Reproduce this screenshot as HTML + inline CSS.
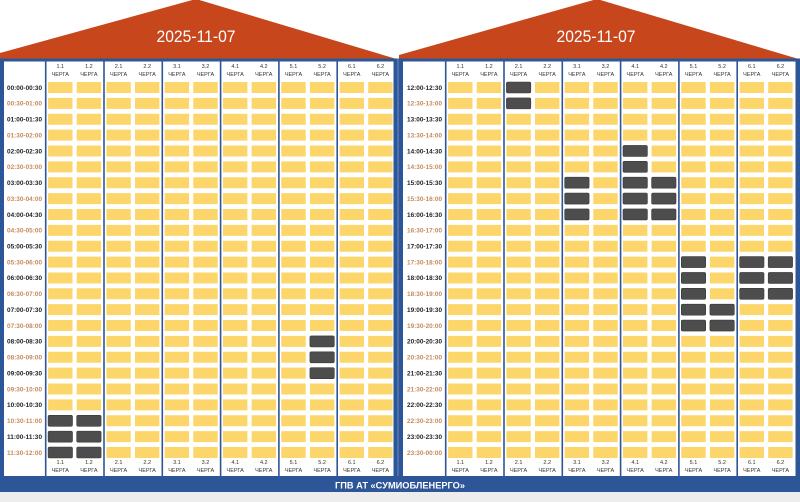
<!DOCTYPE html>
<html><head><meta charset="utf-8"><style>
html,body{margin:0;padding:0;background:#fff}
svg{display:block}
.t{font-family:"Liberation Sans",sans-serif;font-weight:bold;font-size:6.4px;text-anchor:middle}
.e{fill:#1f1f1f}.o{fill:#c48a5c}
.h{font-family:"Liberation Sans",sans-serif;font-size:5.5px;fill:#333;text-anchor:middle}
.d{fill:#4d4d4d;stroke:#3a3a3a;stroke-width:0.6}
.cells{fill:none;stroke:#fcd66a;stroke-width:24.4;stroke-dasharray:11 4.87}
.sep{stroke:#2d5699;stroke-width:1.6}
</style></head><body>
<svg width="800" height="502" viewBox="0 0 800 502" xmlns="http://www.w3.org/2000/svg">
<rect width="800" height="502" fill="#fff"/>
<rect y="492" width="800" height="10" fill="#ededed"/>
<polygon points="0,58.5 0,53 196,-1 395,58.5" fill="#c8461c"/>
<polygon points="399,58.5 399,55 597,-1 797,58.5" fill="#c8461c"/>
<rect x="0" y="58.5" width="397.5" height="433.5" fill="#2d5699"/>
<rect x="398.5" y="58.5" width="401.5" height="433.5" fill="#2d5699"/>
<rect x="397.5" y="58.5" width="1" height="417.5" fill="#6f8cc2"/>
<rect x="0" y="476" width="800" height="16" fill="#2d5699"/>
<rect x="4" y="61.5" width="389.5" height="414.5" fill="#fff"/>
<rect x="403" y="61.5" width="392.5" height="414.5" fill="#fff"/>

<text x="196" y="42" font-family="Liberation Sans, sans-serif" font-size="17" fill="#fff" text-anchor="middle" textLength="79" lengthAdjust="spacingAndGlyphs">2025-11-07</text>
<text x="596" y="42" font-family="Liberation Sans, sans-serif" font-size="17" fill="#fff" text-anchor="middle" textLength="79" lengthAdjust="spacingAndGlyphs">2025-11-07</text>
<text x="400" y="488.5" font-family="Liberation Sans, sans-serif" font-weight="bold" font-size="9" fill="#fff" text-anchor="middle" textLength="130" lengthAdjust="spacingAndGlyphs">ГПВ АТ «СУМИОБЛЕНЕРГО»</text>

<!-- LEFT PANEL -->
<g>
<path class="sep" d="M45.7 61.5V476M104 61.5V476M162.3 61.5V476M220.6 61.5V476M278.9 61.5V476M337.2 61.5V476"/>
<path class="cells" d="M60.3 82V463M88.9 82V463M118.6 82V463M147.2 82V463M176.9 82V463M205.5 82V463M235.2 82V463M263.8 82V463M293.5 82V463M322.1 82V463M351.8 82V463M380.4 82V463"/>
<rect class="d" x="48.1" y="415.27" width="24.4" height="11" rx="1.5"/>
<rect class="d" x="48.1" y="431.14" width="24.4" height="11" rx="1.5"/>
<rect class="d" x="48.1" y="447.01" width="24.4" height="11" rx="1.5"/>
<rect class="d" x="76.7" y="415.27" width="24.4" height="11" rx="1.5"/>
<rect class="d" x="76.7" y="431.14" width="24.4" height="11" rx="1.5"/>
<rect class="d" x="76.7" y="447.01" width="24.4" height="11" rx="1.5"/>
<rect class="d" x="309.9" y="335.92" width="24.4" height="11" rx="1.5"/>
<rect class="d" x="309.9" y="351.79" width="24.4" height="11" rx="1.5"/>
<rect class="d" x="309.9" y="367.66" width="24.4" height="11" rx="1.5"/>

<text class="t e" x="24.5" y="89.8" textLength="35">00:00-00:30</text>
<text class="t o" x="24.5" y="105.67" textLength="35">00:30-01:00</text>
<text class="t e" x="24.5" y="121.54" textLength="35">01:00-01:30</text>
<text class="t o" x="24.5" y="137.41" textLength="35">01:30-02:00</text>
<text class="t e" x="24.5" y="153.28" textLength="35">02:00-02:30</text>
<text class="t o" x="24.5" y="169.15" textLength="35">02:30-03:00</text>
<text class="t e" x="24.5" y="185.02" textLength="35">03:00-03:30</text>
<text class="t o" x="24.5" y="200.89" textLength="35">03:30-04:00</text>
<text class="t e" x="24.5" y="216.76" textLength="35">04:00-04:30</text>
<text class="t o" x="24.5" y="232.63" textLength="35">04:30-05:00</text>
<text class="t e" x="24.5" y="248.5" textLength="35">05:00-05:30</text>
<text class="t o" x="24.5" y="264.37" textLength="35">05:30-06:00</text>
<text class="t e" x="24.5" y="280.24" textLength="35">06:00-06:30</text>
<text class="t o" x="24.5" y="296.11" textLength="35">06:30-07:00</text>
<text class="t e" x="24.5" y="311.98" textLength="35">07:00-07:30</text>
<text class="t o" x="24.5" y="327.85" textLength="35">07:30-08:00</text>
<text class="t e" x="24.5" y="343.72" textLength="35">08:00-08:30</text>
<text class="t o" x="24.5" y="359.59" textLength="35">08:30-09:00</text>
<text class="t e" x="24.5" y="375.46" textLength="35">09:00-09:30</text>
<text class="t o" x="24.5" y="391.33" textLength="35">09:30-10:00</text>
<text class="t e" x="24.5" y="407.2" textLength="35">10:00-10:30</text>
<text class="t o" x="24.5" y="423.07" textLength="35">10:30-11:00</text>
<text class="t e" x="24.5" y="438.94" textLength="35">11:00-11:30</text>
<text class="t o" x="24.5" y="454.81" textLength="35">11:30-12:00</text>
</g>

<!-- headers -->
<g>
<text class="h" x="60.3" y="68">1.1<tspan x="60.3" y="76">ЧЕРГА</tspan></text>
<text class="h" x="88.9" y="68">1.2<tspan x="88.9" y="76">ЧЕРГА</tspan></text>
<text class="h" x="118.6" y="68">2.1<tspan x="118.6" y="76">ЧЕРГА</tspan></text>
<text class="h" x="147.2" y="68">2.2<tspan x="147.2" y="76">ЧЕРГА</tspan></text>
<text class="h" x="176.9" y="68">3.1<tspan x="176.9" y="76">ЧЕРГА</tspan></text>
<text class="h" x="205.5" y="68">3.2<tspan x="205.5" y="76">ЧЕРГА</tspan></text>
<text class="h" x="235.2" y="68">4.1<tspan x="235.2" y="76">ЧЕРГА</tspan></text>
<text class="h" x="263.8" y="68">4.2<tspan x="263.8" y="76">ЧЕРГА</tspan></text>
<text class="h" x="293.5" y="68">5.1<tspan x="293.5" y="76">ЧЕРГА</tspan></text>
<text class="h" x="322.1" y="68">5.2<tspan x="322.1" y="76">ЧЕРГА</tspan></text>
<text class="h" x="351.8" y="68">6.1<tspan x="351.8" y="76">ЧЕРГА</tspan></text>
<text class="h" x="380.4" y="68">6.2<tspan x="380.4" y="76">ЧЕРГА</tspan></text>
</g>
<g transform="translate(0,396)">
<text class="h" x="60.3" y="68">1.1<tspan x="60.3" y="76">ЧЕРГА</tspan></text>
<text class="h" x="88.9" y="68">1.2<tspan x="88.9" y="76">ЧЕРГА</tspan></text>
<text class="h" x="118.6" y="68">2.1<tspan x="118.6" y="76">ЧЕРГА</tspan></text>
<text class="h" x="147.2" y="68">2.2<tspan x="147.2" y="76">ЧЕРГА</tspan></text>
<text class="h" x="176.9" y="68">3.1<tspan x="176.9" y="76">ЧЕРГА</tspan></text>
<text class="h" x="205.5" y="68">3.2<tspan x="205.5" y="76">ЧЕРГА</tspan></text>
<text class="h" x="235.2" y="68">4.1<tspan x="235.2" y="76">ЧЕРГА</tspan></text>
<text class="h" x="263.8" y="68">4.2<tspan x="263.8" y="76">ЧЕРГА</tspan></text>
<text class="h" x="293.5" y="68">5.1<tspan x="293.5" y="76">ЧЕРГА</tspan></text>
<text class="h" x="322.1" y="68">5.2<tspan x="322.1" y="76">ЧЕРГА</tspan></text>
<text class="h" x="351.8" y="68">6.1<tspan x="351.8" y="76">ЧЕРГА</tspan></text>
<text class="h" x="380.4" y="68">6.2<tspan x="380.4" y="76">ЧЕРГА</tspan></text>
</g>

<!-- RIGHT PANEL -->
<g transform="translate(400,0)">
<path class="sep" d="M45.7 61.5V476M104 61.5V476M162.3 61.5V476M220.6 61.5V476M278.9 61.5V476M337.2 61.5V476"/>
<path class="cells" d="M60.3 82V463M88.9 82V463M118.6 82V463M147.2 82V463M176.9 82V463M205.5 82V463M235.2 82V463M263.8 82V463M293.5 82V463M322.1 82V463M351.8 82V463M380.4 82V463"/>
<rect class="d" x="106.4" y="82" width="24.4" height="11" rx="1.5"/>
<rect class="d" x="106.4" y="97.87" width="24.4" height="11" rx="1.5"/>
<rect class="d" x="164.7" y="177.22" width="24.4" height="11" rx="1.5"/>
<rect class="d" x="164.7" y="193.09" width="24.4" height="11" rx="1.5"/>
<rect class="d" x="164.7" y="208.96" width="24.4" height="11" rx="1.5"/>
<rect class="d" x="223" y="145.48" width="24.4" height="11" rx="1.5"/>
<rect class="d" x="223" y="161.35" width="24.4" height="11" rx="1.5"/>
<rect class="d" x="223" y="177.22" width="24.4" height="11" rx="1.5"/>
<rect class="d" x="223" y="193.09" width="24.4" height="11" rx="1.5"/>
<rect class="d" x="223" y="208.96" width="24.4" height="11" rx="1.5"/>
<rect class="d" x="251.6" y="177.22" width="24.4" height="11" rx="1.5"/>
<rect class="d" x="251.6" y="193.09" width="24.4" height="11" rx="1.5"/>
<rect class="d" x="251.6" y="208.96" width="24.4" height="11" rx="1.5"/>
<rect class="d" x="281.3" y="256.57" width="24.4" height="11" rx="1.5"/>
<rect class="d" x="281.3" y="272.44" width="24.4" height="11" rx="1.5"/>
<rect class="d" x="281.3" y="288.31" width="24.4" height="11" rx="1.5"/>
<rect class="d" x="281.3" y="304.18" width="24.4" height="11" rx="1.5"/>
<rect class="d" x="281.3" y="320.05" width="24.4" height="11" rx="1.5"/>
<rect class="d" x="309.9" y="304.18" width="24.4" height="11" rx="1.5"/>
<rect class="d" x="309.9" y="320.05" width="24.4" height="11" rx="1.5"/>
<rect class="d" x="339.6" y="256.57" width="24.4" height="11" rx="1.5"/>
<rect class="d" x="339.6" y="272.44" width="24.4" height="11" rx="1.5"/>
<rect class="d" x="339.6" y="288.31" width="24.4" height="11" rx="1.5"/>
<rect class="d" x="368.2" y="256.57" width="24.4" height="11" rx="1.5"/>
<rect class="d" x="368.2" y="272.44" width="24.4" height="11" rx="1.5"/>
<rect class="d" x="368.2" y="288.31" width="24.4" height="11" rx="1.5"/>

<text class="t e" x="24.5" y="89.8" textLength="35">12:00-12:30</text>
<text class="t o" x="24.5" y="105.67" textLength="35">12:30-13:00</text>
<text class="t e" x="24.5" y="121.54" textLength="35">13:00-13:30</text>
<text class="t o" x="24.5" y="137.41" textLength="35">13:30-14:00</text>
<text class="t e" x="24.5" y="153.28" textLength="35">14:00-14:30</text>
<text class="t o" x="24.5" y="169.15" textLength="35">14:30-15:00</text>
<text class="t e" x="24.5" y="185.02" textLength="35">15:00-15:30</text>
<text class="t o" x="24.5" y="200.89" textLength="35">15:30-16:00</text>
<text class="t e" x="24.5" y="216.76" textLength="35">16:00-16:30</text>
<text class="t o" x="24.5" y="232.63" textLength="35">16:30-17:00</text>
<text class="t e" x="24.5" y="248.5" textLength="35">17:00-17:30</text>
<text class="t o" x="24.5" y="264.37" textLength="35">17:30-18:00</text>
<text class="t e" x="24.5" y="280.24" textLength="35">18:00-18:30</text>
<text class="t o" x="24.5" y="296.11" textLength="35">18:30-19:00</text>
<text class="t e" x="24.5" y="311.98" textLength="35">19:00-19:30</text>
<text class="t o" x="24.5" y="327.85" textLength="35">19:30-20:00</text>
<text class="t e" x="24.5" y="343.72" textLength="35">20:00-20:30</text>
<text class="t o" x="24.5" y="359.59" textLength="35">20:30-21:00</text>
<text class="t e" x="24.5" y="375.46" textLength="35">21:00-21:30</text>
<text class="t o" x="24.5" y="391.33" textLength="35">21:30-22:00</text>
<text class="t e" x="24.5" y="407.2" textLength="35">22:00-22:30</text>
<text class="t o" x="24.5" y="423.07" textLength="35">22:30-23:00</text>
<text class="t e" x="24.5" y="438.94" textLength="35">23:00-23:30</text>
<text class="t o" x="24.5" y="454.81" textLength="35">23:30-00:00</text>

<text class="h" x="60.3" y="68">1.1<tspan x="60.3" y="76">ЧЕРГА</tspan></text>
<text class="h" x="88.9" y="68">1.2<tspan x="88.9" y="76">ЧЕРГА</tspan></text>
<text class="h" x="118.6" y="68">2.1<tspan x="118.6" y="76">ЧЕРГА</tspan></text>
<text class="h" x="147.2" y="68">2.2<tspan x="147.2" y="76">ЧЕРГА</tspan></text>
<text class="h" x="176.9" y="68">3.1<tspan x="176.9" y="76">ЧЕРГА</tspan></text>
<text class="h" x="205.5" y="68">3.2<tspan x="205.5" y="76">ЧЕРГА</tspan></text>
<text class="h" x="235.2" y="68">4.1<tspan x="235.2" y="76">ЧЕРГА</tspan></text>
<text class="h" x="263.8" y="68">4.2<tspan x="263.8" y="76">ЧЕРГА</tspan></text>
<text class="h" x="293.5" y="68">5.1<tspan x="293.5" y="76">ЧЕРГА</tspan></text>
<text class="h" x="322.1" y="68">5.2<tspan x="322.1" y="76">ЧЕРГА</tspan></text>
<text class="h" x="351.8" y="68">6.1<tspan x="351.8" y="76">ЧЕРГА</tspan></text>
<text class="h" x="380.4" y="68">6.2<tspan x="380.4" y="76">ЧЕРГА</tspan></text>

<text class="h" x="60.3" y="464">1.1<tspan x="60.3" y="472">ЧЕРГА</tspan></text>
<text class="h" x="88.9" y="464">1.2<tspan x="88.9" y="472">ЧЕРГА</tspan></text>
<text class="h" x="118.6" y="464">2.1<tspan x="118.6" y="472">ЧЕРГА</tspan></text>
<text class="h" x="147.2" y="464">2.2<tspan x="147.2" y="472">ЧЕРГА</tspan></text>
<text class="h" x="176.9" y="464">3.1<tspan x="176.9" y="472">ЧЕРГА</tspan></text>
<text class="h" x="205.5" y="464">3.2<tspan x="205.5" y="472">ЧЕРГА</tspan></text>
<text class="h" x="235.2" y="464">4.1<tspan x="235.2" y="472">ЧЕРГА</tspan></text>
<text class="h" x="263.8" y="464">4.2<tspan x="263.8" y="472">ЧЕРГА</tspan></text>
<text class="h" x="293.5" y="464">5.1<tspan x="293.5" y="472">ЧЕРГА</tspan></text>
<text class="h" x="322.1" y="464">5.2<tspan x="322.1" y="472">ЧЕРГА</tspan></text>
<text class="h" x="351.8" y="464">6.1<tspan x="351.8" y="472">ЧЕРГА</tspan></text>
<text class="h" x="380.4" y="464">6.2<tspan x="380.4" y="472">ЧЕРГА</tspan></text>
</g>
</svg>
</body></html>
